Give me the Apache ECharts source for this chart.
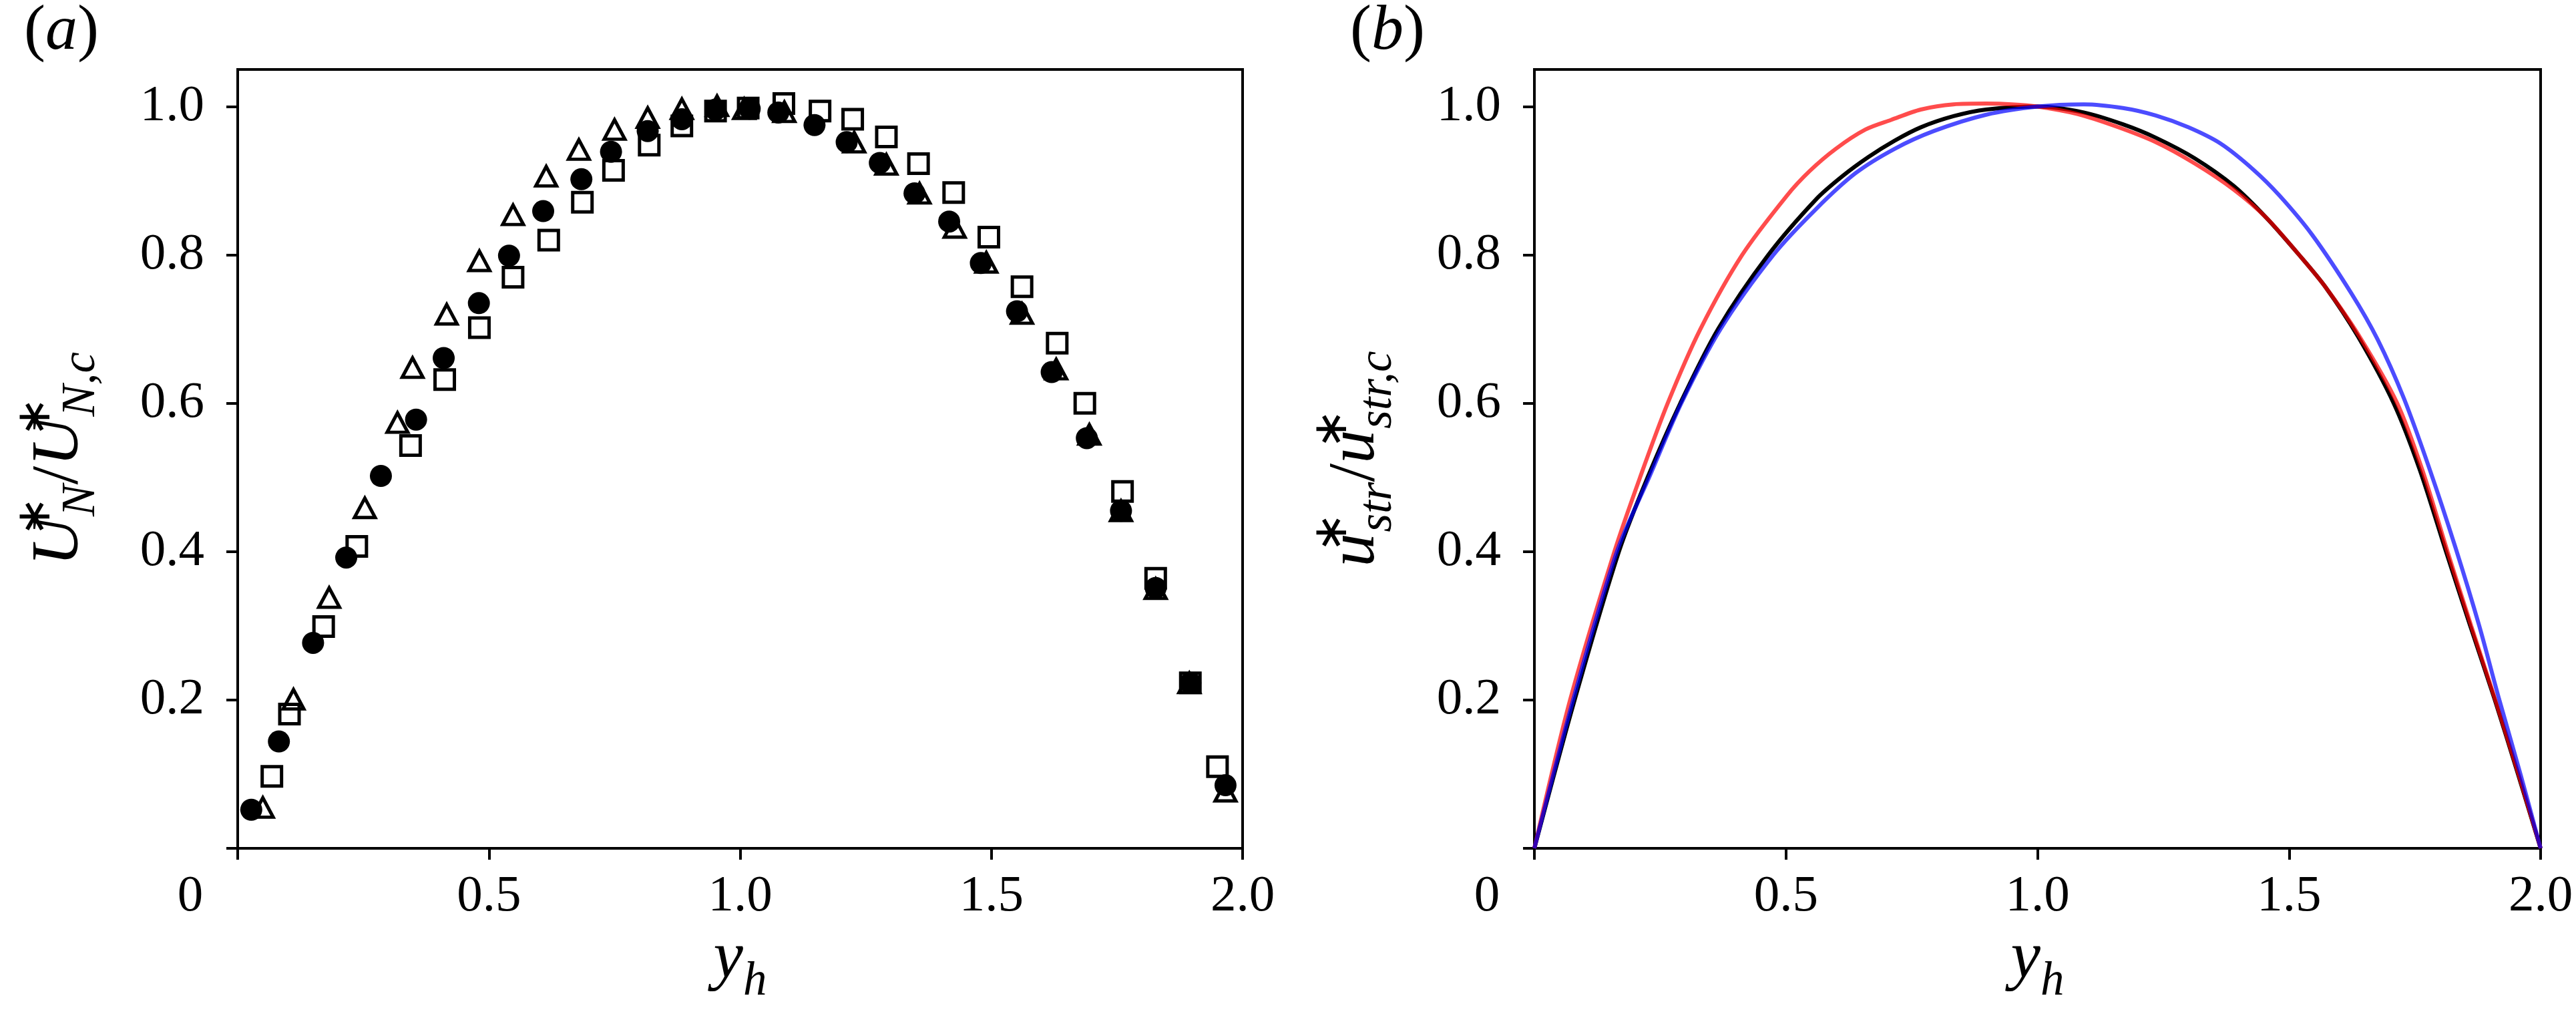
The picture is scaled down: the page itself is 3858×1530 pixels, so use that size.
<!DOCTYPE html>
<html>
<head>
<meta charset="utf-8">
<script src="https://cdn.jsdelivr.net/npm/echarts@6/dist/echarts.min.js"></script>
<style>
html,body{margin:0;padding:0;background:#fff;}
#chart{width:3858px;height:1530px;}
</style>
</head>
<body>
<div id="chart"></div>
<script>
// ---------- data: panel (a), markers ----------
const circleX = [0.027,0.082,0.150,0.216,0.285,0.355,0.410,0.480,0.540,0.608,0.684,0.743,0.816,0.884,0.951,1.019,1.076,1.148,1.212,1.278,1.347,1.416,1.479,1.551,1.620,1.690,1.758,1.827,1.896,1.966];
const circleY = [0.052,0.144,0.277,0.392,0.502,0.578,0.661,0.735,0.799,0.859,0.902,0.939,0.967,0.983,0.996,0.997,0.992,0.975,0.952,0.924,0.883,0.845,0.789,0.724,0.642,0.553,0.455,0.351,0.223,0.085];
const triX = [0.050,0.111,0.182,0.253,0.318,0.348,0.416,0.481,0.548,0.614,0.679,0.750,0.816,0.884,0.954,1.008,1.088,1.227,1.291,1.357,1.427,1.490,1.561,1.629,1.695,1.758,1.827,1.894,1.966];
const triY = [0.055,0.201,0.338,0.459,0.574,0.648,0.720,0.792,0.854,0.906,0.942,0.969,0.985,0.997,1.001,0.997,0.993,0.952,0.922,0.883,0.837,0.790,0.721,0.646,0.558,0.455,0.350,0.223,0.077];
const sqX = [0.068,0.103,0.171,0.237,0.344,0.412,0.481,0.548,0.619,0.686,0.748,0.819,0.884,0.951,1.016,1.087,1.159,1.224,1.291,1.355,1.425,1.495,1.561,1.631,1.686,1.761,1.827,1.896,1.950];
const sqY = [0.097,0.181,0.299,0.407,0.543,0.632,0.702,0.770,0.820,0.871,0.914,0.948,0.974,0.994,0.998,1.004,0.994,0.983,0.959,0.923,0.884,0.824,0.757,0.681,0.600,0.481,0.364,0.223,0.110];

// ---------- data: panel (b), curves ----------
const blackX = [0,0.080,0.168,0.225,0.290,0.365,0.465,0.560,0.612,0.664,0.716,0.768,0.833,0.898,1.000,1.092,1.170,1.235,1.313,1.390,1.455,1.520,1.572,1.637,1.708,1.760,1.812,1.860,1.909,1.955,2.0];
const blackY = [0,0.200,0.400,0.500,0.600,0.700,0.800,0.875,0.906,0.932,0.954,0.972,0.987,0.996,1.000,0.992,0.976,0.958,0.930,0.893,0.850,0.800,0.757,0.690,0.600,0.510,0.400,0.300,0.200,0.100,0];
const redX = [0,0.071,0.159,0.210,0.265,0.330,0.413,0.502,0.547,0.599,0.658,0.709,0.768,0.833,0.898,0.949,1.000,1.079,1.157,1.235,1.313,1.390,1.455,1.520,1.572,1.640,1.715,1.765,1.815,1.862,1.910,1.956,2.0];
const redY = [0,0.200,0.400,0.500,0.600,0.700,0.800,0.880,0.913,0.943,0.969,0.982,0.996,1.003,1.004,1.003,1.000,0.990,0.973,0.952,0.923,0.888,0.850,0.800,0.757,0.690,0.600,0.510,0.400,0.300,0.200,0.100,0];
const blueX = [0,0.077,0.164,0.228,0.292,0.370,0.475,0.560,0.638,0.716,0.794,0.898,1.000,1.092,1.170,1.235,1.300,1.364,1.429,1.481,1.546,1.624,1.676,1.728,1.780,1.831,1.878,1.918,1.960,2.0];
const blueY = [0,0.200,0.400,0.500,0.600,0.700,0.800,0.862,0.910,0.943,0.967,0.989,1.000,1.003,0.998,0.988,0.972,0.950,0.915,0.880,0.827,0.748,0.686,0.607,0.510,0.405,0.300,0.200,0.100,0];

// ---------- ticks ----------
const yTickValues = [0,0.2,0.4,0.6,0.8,1.0];
const yLabelValues = [0.2,0.4,0.6,0.8,1.0];

const serif = 'Liberation Serif';
const zip = (xs, ys) => xs.map((x, i) => [x, ys[i]]);

const nameRich = {
  m: {fontFamily: serif, fontStyle: 'italic', fontWeight: 'normal', fontSize: 100, lineHeight: 138, color: '#000'},
  r: {fontFamily: serif, fontWeight: 'normal', fontSize: 100, lineHeight: 138, color: '#000'},
  p: {fontFamily: serif, fontWeight: 'normal', fontSize: 71, lineHeight: 114, verticalAlign: 'top', width: 2, align: 'left', color: '#000'},
  s: {fontFamily: serif, fontStyle: 'italic', fontWeight: 'normal', fontSize: 71, lineHeight: 71, verticalAlign: 'bottom', color: '#000'}
};

function xAxisCfg(gi) {
  return {
    gridIndex: gi, type: 'value', min: 0, max: 2, interval: 0.5,
    axisLine: {show: false},
    splitLine: {show: false},
    axisTick: {show: true, inside: false, length: 17, lineStyle: {color: '#000', width: 4}},
    axisLabel: {
      margin: 34, color: '#000', fontFamily: serif, fontSize: 77,
      formatter: v => v === 0 ? '{z|0}' : v.toFixed(1),
      rich: {z: {fontFamily: serif, fontSize: 77, color: '#000', padding: [0, 142, 0, 0]}}
    },
    name: '{m|y}{s|h}', nameLocation: 'middle', nameGap: 98,
    nameTextStyle: {fontFamily: serif, rich: nameRich}
  };
}
function yAxisCfg(gi, name) {
  return {
    gridIndex: gi, type: 'value', min: 0, max: 1.05,
    axisLine: {show: false},
    splitLine: {show: false},
    axisTick: {show: true, inside: false, length: 17, customValues: yTickValues, lineStyle: {color: '#000', width: 4}},
    axisLabel: {
      margin: 50, color: '#000', fontFamily: serif, fontSize: 77,
      customValues: yLabelValues,
      formatter: v => v.toFixed(1)
    },
    name: name, nameLocation: 'middle', nameGap: 198, nameRotate: 90,
    nameTextStyle: {fontFamily: serif, rich: nameRich}
  };
}

const panelRich = {
  p: {fontFamily: serif, fontWeight: 'normal', fontSize: 96, lineHeight: 96, color: '#000'},
  i: {fontFamily: serif, fontStyle: 'italic', fontWeight: 'normal', fontSize: 96, lineHeight: 96, color: '#000'}
};

const openStyle = {color: 'rgba(0,0,0,0)', borderColor: '#000', borderWidth: 5, opacity: 1};

const option = {
  animation: false,
  backgroundColor: '#fff',
  textStyle: {fontFamily: serif},
  title: [
    {text: '{p|(}{i|a}{p|)}', left: 36, top: 0, padding: 0, textStyle: {fontWeight: 'normal', fontFamily: serif, rich: panelRich}},
    {text: '{p|(}{i|b}{p|)}', left: 2022, top: 0, padding: 0, textStyle: {fontWeight: 'normal', fontFamily: serif, rich: panelRich}}
  ],
  grid: [
    {left: 356, top: 104, width: 1505, height: 1166, show: true, borderColor: '#000', borderWidth: 4, backgroundColor: 'transparent', containLabel: false, outerBoundsMode: 'none'},
    {left: 2298, top: 104, width: 1507, height: 1166, show: true, borderColor: '#000', borderWidth: 4, backgroundColor: 'transparent', containLabel: false, outerBoundsMode: 'none'}
  ],
  xAxis: [xAxisCfg(0), xAxisCfg(1)],
  yAxis: [
    yAxisCfg(0, '{m|U}{p|∗}{s|N}{r|/}{m|U}{p|∗}{s|N,c}'),
    yAxisCfg(1, '{m|u}{p|∗}{s|str}{r|/}{m|u}{p|∗}{s|str,c}')
  ],
  series: [
    {type: 'scatter', xAxisIndex: 0, yAxisIndex: 0, data: zip(sqX, sqY), symbol: 'rect', symbolSize: 29, itemStyle: openStyle, silent: true},
    {type: 'scatter', xAxisIndex: 0, yAxisIndex: 0, data: zip(triX, triY), symbol: 'triangle', symbolSize: [31, 29], itemStyle: openStyle, silent: true},
    {type: 'scatter', xAxisIndex: 0, yAxisIndex: 0, data: zip(circleX, circleY), symbol: 'circle', symbolSize: 33, itemStyle: {color: '#000', opacity: 1}, silent: true},
    {type: 'line', xAxisIndex: 1, yAxisIndex: 1, data: zip(blackX, blackY), smooth: 0.3, showSymbol: false, lineStyle: {color: '#000', width: 6}, silent: true},
    {type: 'line', xAxisIndex: 1, yAxisIndex: 1, data: zip(redX, redY), smooth: 0.3, showSymbol: false, lineStyle: {color: '#ff0000', width: 6, opacity: 0.7}, silent: true},
    {type: 'line', xAxisIndex: 1, yAxisIndex: 1, data: zip(blueX, blueY), smooth: 0.3, showSymbol: false, lineStyle: {color: '#0000ff', width: 6, opacity: 0.7}, silent: true}
  ]
};

const chart = echarts.init(document.getElementById('chart'), null, {renderer: 'canvas'});
chart.setOption(option);
</script>
</body>
</html>
